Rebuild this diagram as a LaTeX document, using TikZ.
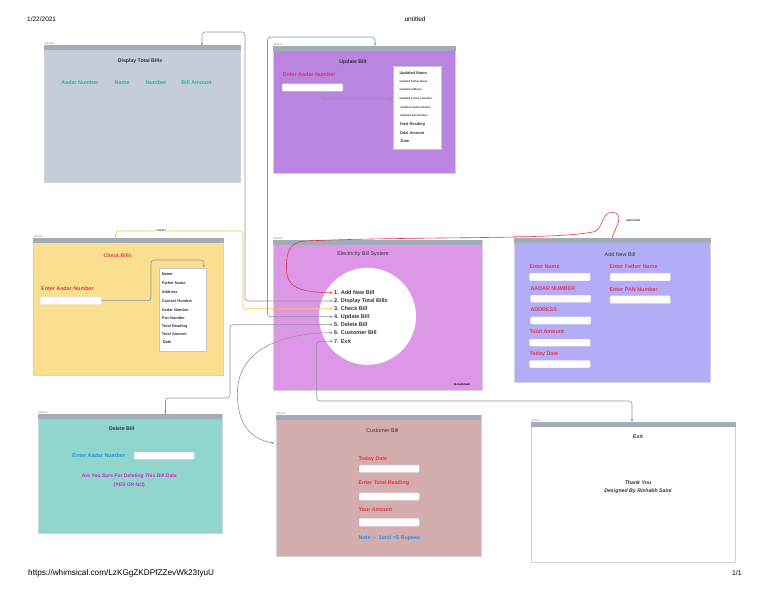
\documentclass[tikz,border=0pt]{standalone}
\usepackage{fontspec}
\setmainfont{Liberation Sans}
\usetikzlibrary{arrows.meta}
\definecolor{dispc}{HTML}{C5CED8}
\definecolor{updc}{HTML}{B985E0}
\definecolor{chkc}{HTML}{FADF90}
\definecolor{cenc}{HTML}{DC98E6}
\definecolor{addc}{HTML}{B3ADF7}
\definecolor{delc}{HTML}{90D6CC}
\definecolor{cusc}{HTML}{D4AEAE}
\definecolor{barc}{HTML}{A2ACB6}
\definecolor{winb}{HTML}{D0D4D8}
\definecolor{connc}{HTML}{8C96A0}
\definecolor{yelc}{HTML}{F5C842}
\definecolor{redc}{HTML}{E23A55}
\definecolor{tealc}{HTML}{22B49E}
\definecolor{lblred}{HTML}{E8334A}
\definecolor{bluec}{HTML}{2F8BE6}
\definecolor{magc}{HTML}{C42BD0}
\definecolor{darkc}{HTML}{333333}
\begin{document}
\begin{tikzpicture}[x=1pt,y=-1pt,
  >={Stealth[length=3pt,width=2.4pt]},
  win/.style={draw=winb, line width=0.5pt, anchor=north west, inner sep=0pt},
  wlab/.style={font=\fontsize{2.6}{3}\selectfont, text=gray, anchor=south west, inner sep=0.4pt},
  ttl/.style={font=\fontsize{5.2}{6}\selectfont\bfseries, text=darkc, inner sep=0pt},
  ttlr/.style={font=\fontsize{5.4}{6}\selectfont, text=darkc, inner sep=0pt},
  lbl/.style={font=\fontsize{5.4}{6}\selectfont\bfseries, inner sep=0pt},
  lblw/.style={lbl, anchor=west, text=lblred},
  tbox/.style={fill=white, draw=gray!25, line width=0.3pt, rounded corners=1pt, anchor=north west, inner sep=0pt},
  lbox/.style={fill=white, draw=gray!45, line width=0.4pt, anchor=north west, inner sep=0pt},
  it/.style={font=\fontsize{3.9}{4.5}\selectfont\bfseries, text=darkc, anchor=west, inner sep=0pt},
  its/.style={font=\fontsize{2.7}{3}\selectfont\bfseries, text=darkc, anchor=west, inner sep=0pt},
  mi/.style={font=\fontsize{5.5}{6}\selectfont\bfseries, text=darkc, anchor=west, inner sep=0pt},
  conn/.style={draw=connc, line width=0.6pt, rounded corners=3pt},
  hdr/.style={font=\fontsize{6.5}{7}\selectfont, text=black, inner sep=0pt}
]
\useasboundingbox (0,0) rectangle (768,594);
\fill[white] (0,0) rectangle (768,594);

% header / footer
\node[hdr, anchor=west] (hdate) at (27,19) {1/22/2021};
\node[hdr] (htitle) at (415,19) {untitled};
\node[hdr, anchor=west, font=\fontsize{8.2}{9}\selectfont] (furl) at (28,573) {https://whimsical.com/LzKGgZKDPfZZevWk23tyuU};
\node[hdr, anchor=east, font=\fontsize{7}{8}\selectfont] (fpage) at (742,573) {1/1};

% ===== windows =====
\node[win, fill=dispc, minimum width=196pt, minimum height=136pt] (wdisp) at (44,45.5) {};
\node[win, fill=updc, minimum width=182.3pt, minimum height=127.3pt] (wupd) at (272.7,45.7) {};
\node[win, fill=chkc, minimum width=189.7pt, minimum height=136.7pt] (wchk) at (33.3,238.3) {};
\node[win, fill=cenc, minimum width=209pt, minimum height=150pt] (wcen) at (272.7,240) {};
\node[win, fill=addc, minimum width=195.7pt, minimum height=143.4pt] (wadd) at (514.3,238.3) {};
\node[win, fill=delc, minimum width=184pt, minimum height=118.4pt] (wdel) at (37.7,414.3) {};
\node[win, fill=cusc, minimum width=204.7pt, minimum height=141pt] (wcus) at (276,415) {};
\node[win, fill=white, minimum width=204pt, minimum height=140pt] (wexit) at (531,421.7) {};

\foreach \w in {wdisp,wupd,wchk,wcen,wadd,wdel,wcus,wexit}{
  \fill[barc] (\w.north west) rectangle ([yshift=-5pt]\w.north east);
  \node[wlab] at (\w.north west) {Window};
}

% ===== Display Total Bills =====
\node[ttl] (tdisp) at (140,61.5) {Display Total Bills};
\node[lbl, text=tealc] (d1) at (80,82.3) {Aadar Number};
\node[lbl, text=tealc] (d2) at (122,82.3) {Name};
\node[lbl, text=tealc] (d3) at (156,82.3) {Number};
\node[lbl, text=tealc] (d4) at (196.5,82.3) {Bill Amount};

% ===== Update Bill =====
\node[ttl] (tupd) at (353,61.7) {Update Bill};
\node[lblw] (ulab) at (282.7,75) {Enter Aadar Number};
\node[tbox, minimum width=60.7pt, minimum height=7.3pt] (ubox) at (282,83.7) {};
\node[lbox, minimum width=48.3pt, minimum height=83.3pt] (ulist) at (392.7,66) {};
\node[it] (u1) at (399.3,73.3) {Updated Name};
\node[its] (u2) at (399.3,81.7) {Updated Father Name};
\node[its] (u3) at (399.3,90) {Updated Address};
\node[its] (u4) at (399.3,98.7) {Updated Contact Number};
\node[its] (u5) at (400.5,107.7) {Updated Aadar Number};
\node[its] (u6) at (400,115.7) {Updated Pan Number};
\node[it] (u7) at (399.3,124.7) {Total Reading};
\node[it] (u8) at (399.3,132.7) {Total Amount};
\node[it] (u9) at (400.5,141.3) {Date};
\draw[conn, ->] ([xshift=10pt]ubox.south) |- (ulist.west |- 0,99);

% ===== Check Bills =====
\node[ttl, text=lblred] (tchk) at (117.7,256) {Check Bills};
\node[lblw] (clab) at (41,288.7) {Enter Aadar Number};
\node[tbox, minimum width=61pt, minimum height=7.6pt] (cbox) at (40,296.7) {};
\node[lbox, minimum width=46.7pt, minimum height=83pt] (clist) at (159.3,267.7) {};
\node[it] (c1) at (161.7,274.3) {Name};
\node[it] (c2) at (161.7,283.3) {Father Name};
\node[it] (c3) at (161.7,291.7) {Address};
\node[it] (c4) at (161.7,300.7) {Contact Number};
\node[it] (c5) at (161.7,310) {Aadar Number};
\node[it] (c6) at (161.7,318.3) {Pan Number};
\node[it] (c7) at (161.7,326.3) {Total Reading};
\node[it] (c8) at (161.7,334.3) {Total Amount};
\node[it] (c9) at (162.7,342.3) {Date};
\coordinate (cb1) at (151,260);
\draw[conn, ->] (cbox.east) -| (cb1) -| ([xshift=21pt]clist.north);

% ===== Electricity Bill System =====
\node[ttlr] (tcen) at (363,254) {Electricity Bill System};
\node[circle, fill=white, minimum size=97pt, inner sep=0pt] (circ) at (367.5,316.3) {};
\node[mi] (m1) at (334,292.7) {1. Add New Bill};
\node[mi] (m2) at (334,301) {2. Display Total Bills};
\node[mi] (m3) at (334,308.7) {3. Check Bill};
\node[mi] (m4) at (334,316.7) {4. Update Bill};
\node[mi] (m5) at (334,324.7) {5. Delete Bill};
\node[mi] (m6) at (334,332.7) {6. Customer Bill};
\node[mi] (m7) at (334,341.3) {7. Exit};
\node[font=\fontsize{2.6}{3}\selectfont\bfseries, inner sep=0pt] (sig) at (462,384.3) {RishabhSaini};

% ===== Add New Bill =====
\node[ttlr] (tadd) at (620,255) {Add New Bill};
\node[lblw] (a1) at (529.3,267) {Enter Name};
\node[tbox, minimum width=60.7pt, minimum height=7.7pt] (abox1) at (529.3,273) {};
\node[lblw] (a2) at (530.3,288.3) {AADAR NUMBER};
\node[tbox, minimum width=60.3pt, minimum height=7.3pt] (abox2) at (530.3,295) {};
\node[lblw] (a3) at (530.3,309.3) {ADDRESS};
\node[tbox, minimum width=60.3pt, minimum height=7.3pt] (abox3) at (530.3,316.7) {};
\node[lblw] (a4) at (529.3,332) {Total Amount};
\node[tbox, minimum width=60.7pt, minimum height=7pt] (abox4) at (529.3,339) {};
\node[lblw] (a5) at (529.3,354.3) {Today Date};
\node[tbox, minimum width=60.7pt, minimum height=7.3pt] (abox5) at (529.3,360.3) {};
\node[lblw] (a6) at (609.3,267) {Enter Father Name};
\node[tbox, minimum width=60.3pt, minimum height=7.7pt] (abox6) at (610,273) {};
\node[lblw] (a7) at (609.3,289.3) {Enter PAN Number};
\node[tbox, minimum width=60.3pt, minimum height=7.6pt] (abox7) at (610,295.7) {};

% ===== Delete Bill =====
\node[ttl] (tdel) at (121.7,429) {Delete Bill};
\node[lbl, text=bluec] (dl1) at (98.7,455.7) {Enter Aadar Number};
\node[tbox, minimum width=60pt, minimum height=7pt] (dbox) at (134,452) {};
\node[lbl, text=magc, font=\fontsize{5}{5.5}\selectfont\bfseries] (dl2) at (129.3,476.7) {Are You Sure For Deleting This Bill Data};
\node[lbl, text=magc, font=\fontsize{5}{5.5}\selectfont\bfseries] (dl3) at (129.3,485) {(YES OR NO)};

% ===== Customer Bill =====
\node[ttlr] (tcus) at (382.3,431) {Customer Bill};
\node[lblw] (cu1) at (358.3,458.7) {Today Date};
\node[tbox, minimum width=60pt, minimum height=7.3pt] (cubox1) at (359,465) {};
\node[lblw] (cu2) at (358.3,482.7) {Enter Total Reading};
\node[tbox, minimum width=60pt, minimum height=7.3pt] (cubox2) at (359,492.7) {};
\node[lblw] (cu3) at (358.3,510) {Your Amount};
\node[tbox, minimum width=60pt, minimum height=7.7pt] (cubox3) at (359,518.3) {};
\node[lblw, text=bluec] (cu4) at (358.3,538.3) {Note :-\ \ 1unit =5 Rupees};

% ===== Exit =====
\node[ttl] (texit) at (638,437) {Exit};
\node[ttl, font=\fontsize{5.2}{6}\selectfont\bfseries\itshape] (ex1) at (638,482.3) {Thank You};
\node[ttl, font=\fontsize{5.2}{6}\selectfont\bfseries\itshape] (ex2) at (638,490.7) {Designed By Rishabh Saini};

% ===== connectors =====
% Display Total Bills
\coordinate (kd1) at (245,32);
\coordinate (kd2) at (202,45.5);
\draw[conn, <->, shorten <=1pt] (m2.west) -| (kd1) -| (kd2);
% Update Bill
\coordinate (ku1) at (267.5,37);
\coordinate (ku2) at (375,45.7);
\draw[conn, <->, shorten <=1pt] (m4.west) -| (ku1) -| (ku2);
% Check Bill (yellow)
\coordinate (kc1) at (243,231);
\coordinate (kc2) at (115.7,238.3);
\draw[conn, draw=yelc, <->, shorten <=1pt] (m3.west) -| (kc1) -| (kc2);
\node[font=\fontsize{2.6}{3}\selectfont, fill=white, inner sep=0.5pt] (addlab) at (161,231) {Add Bill};
% Delete Bill
\coordinate (kx1) at (230,398);
\coordinate (kx2) at (165.5,414.3);
\draw[conn, <->, shorten <=1pt] (m5.west) -| (kx1) -| (kx2);
% Exit
\coordinate (ke1) at (316.7,401);
\coordinate (ke2) at (632,421.7);
\draw[conn, <->, shorten <=1pt] (m7.west) -| (ke1) -| (ke2);
% Customer Bill (curve)
\coordinate (kcu) at (274.5,443);
\draw[connc, line width=0.6pt, <->, shorten <=1pt] (m6.west) .. controls (290,333) and (240,345) .. (237.5,390) .. controls (236,425) and (252,440) .. (kcu);
% Add New Bill (red curve)
\coordinate (kad) at (612,238.3);
\draw[redc, line width=0.6pt, ->, shorten >=1pt] (kad) .. controls (615,228) and (626,213) .. (612,212.5) .. controls (602,212) and (604,226) .. (595,231.5) .. controls (560,240) and (420,236) .. (305,241) .. controls (288,242) and (286,255) .. (286.5,270) .. controls (287,285) and (296,292.7) .. (m1.west);
\node[font=\fontsize{2.8}{3}\selectfont, inner sep=0pt] (addnew) at (633,220) {addNewBill};
\end{tikzpicture}
\end{document}
